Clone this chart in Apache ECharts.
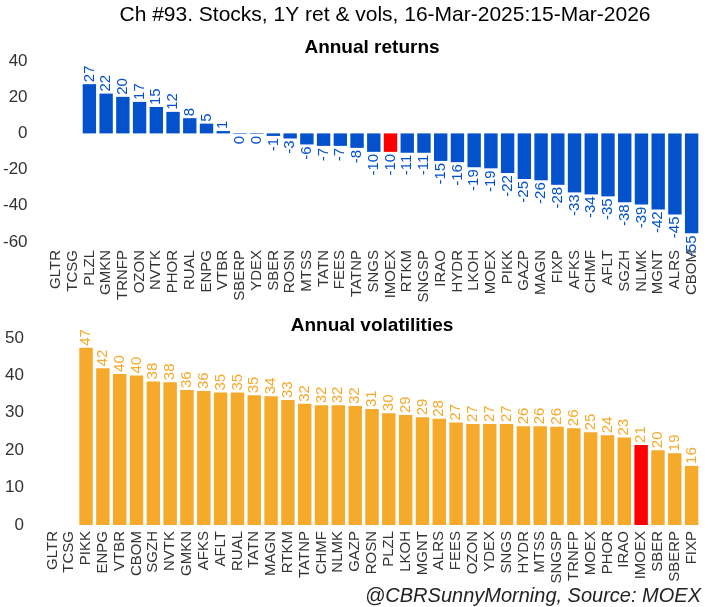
<!DOCTYPE html>
<html><head><meta charset="utf-8">
<script src="https://cdn.jsdelivr.net/npm/echarts@6/dist/echarts.min.js"></script>
<style>html,body{margin:0;padding:0;background:#fff}#c{width:708px;height:607px}</style>
</head><body><div id="c"></div>
<script>
const retCategories = ['GLTR','TCSG','PLZL','GMKN','TRNFP','OZON','NVTK','PHOR','RUAL','ENPG','VTBR','SBERP','YDEX','SBER','ROSN','MTSS','TATN','FEES','TATNP','SNGS','IMOEX','RTKM','SNGSP','IRAO','HYDR','LKOH','MOEX','PIKK','GAZP','MAGN','FIXP','AFKS','CHMF','AFLT','SGZH','NLMK','MGNT','ALRS','CBOM'];
const retValues = [null,null,27.2,22.0,20.2,17.4,14.6,11.9,8.4,5.4,1.3,-0.3,-0.3,-1.4,-2.8,-6.1,-6.9,-6.9,-8.0,-10.2,-10.2,-10.7,-10.7,-15.2,-15.9,-18.7,-19.3,-21.9,-25.2,-25.9,-28.4,-32.6,-33.7,-34.8,-38.1,-39.3,-42.0,-44.8,-55.2];
const volCategories = ['GLTR','TCSG','PIKK','ENPG','VTBR','CBOM','SGZH','NVTK','GMKN','AFKS','AFLT','RUAL','TATN','MAGN','RTKM','TATNP','CHMF','NLMK','GAZP','ROSN','PLZL','LKOH','MGNT','ALRS','FEES','OZON','YDEX','SNGS','HYDR','MTSS','SNGSP','TRNFP','MOEX','PHOR','IRAO','IMOEX','SBER','SBERP','FIXP'];
const volValues = [null,null,47.4,41.9,40.4,40.0,38.4,38.2,36.1,35.8,35.4,35.4,34.7,34.4,33.4,32.4,32.0,32.0,31.8,31.0,29.9,29.4,28.8,28.4,27.4,27.0,27.0,27.0,26.4,26.4,26.3,25.9,24.8,24.0,23.4,21.4,20.0,19.2,15.8];
const retTicks = {min:-60, max:40, interval:20};
const volTicks = {min:0, max:50, interval:10};
const highlight = 'IMOEX';

const BLUE = '#0352cc', ORANGE = '#f6aa2c', RED = '#ff0000';
const FONT = 'Liberation Sans, Arial, sans-serif';

function mkData(cats, vals, color) {
  return vals.map((v, i) => {
    if (v === null) return {value: null};
    const neg = v < 0;
    return {
      value: v,
      itemStyle: {color: cats[i] === highlight ? RED : color},
      label: {
        position: neg ? 'bottom' : 'top',
        align: neg ? 'right' : 'left',
        verticalAlign: 'middle'
      }
    };
  });
}

const chart = echarts.init(document.getElementById('c'), null, {renderer: 'canvas'});
const axisLbl = {color: '#333', fontSize: 17, fontFamily: FONT, margin: 20};
const catLbl = {color: '#333', fontSize: 15, fontFamily: FONT, rotate: 90, interval: 0};
chart.setOption({
  animation: false,
  backgroundColor: '#fff',
  title: [
    {text: 'Ch #93. Stocks, 1Y ret & vols, 16-Mar-2025:15-Mar-2026', left: 380, top: 0, textAlign: 'center',
     textStyle: {fontSize: 21, fontWeight: 'normal', color: '#000', fontFamily: FONT}},
    {text: 'Annual returns', left: 367, top: 33, textAlign: 'center',
     textStyle: {fontSize: 19, fontWeight: 'bold', color: '#000', fontFamily: FONT}},
    {text: 'Annual volatilities', left: 367, top: 311, textAlign: 'center',
     textStyle: {fontSize: 19, fontWeight: 'bold', color: '#000', fontFamily: FONT}},
    {text: '@CBRSunnyMorning, Source: MOEX', right: 2, top: 581,
     textStyle: {fontSize: 20, fontWeight: 'normal', fontStyle: 'italic', color: '#222', fontFamily: FONT}}
  ],
  grid: [
    {left: 44, right: 8, top: 61, height: 181},
    {left: 44, right: 8, top: 338, height: 187}
  ],
  xAxis: [
    {type: 'category', gridIndex: 0, data: retCategories, axisLine: {show: false}, axisTick: {show: false},
     axisLabel: Object.assign({}, catLbl, {margin: 8})},
    {type: 'category', gridIndex: 1, data: volCategories, axisLine: {show: false}, axisTick: {show: false},
     axisLabel: Object.assign({}, catLbl, {margin: 6})}
  ],
  yAxis: [
    Object.assign({type: 'value', gridIndex: 0, splitLine: {show: false}, axisLine: {show: false}, axisTick: {show: false}, axisLabel: axisLbl}, retTicks),
    Object.assign({type: 'value', gridIndex: 1, splitLine: {show: false}, axisLine: {show: false}, axisTick: {show: false}, axisLabel: axisLbl}, volTicks)
  ],
  series: [
    {type: 'bar', xAxisIndex: 0, yAxisIndex: 0, barCategoryGap: '20%',
     data: mkData(retCategories, retValues, BLUE),
     label: {show: true, rotate: 90, distance: 2, fontSize: 15, fontFamily: FONT, color: BLUE,
       formatter: p => String(Math.round(p.value))}},
    {type: 'bar', xAxisIndex: 1, yAxisIndex: 1, barCategoryGap: '20%',
     data: mkData(volCategories, volValues, ORANGE),
     label: {show: true, rotate: 90, distance: 2, fontSize: 15, fontFamily: FONT, color: ORANGE,
       formatter: p => String(Math.round(p.value))}}
  ]
});
</script></body></html>
